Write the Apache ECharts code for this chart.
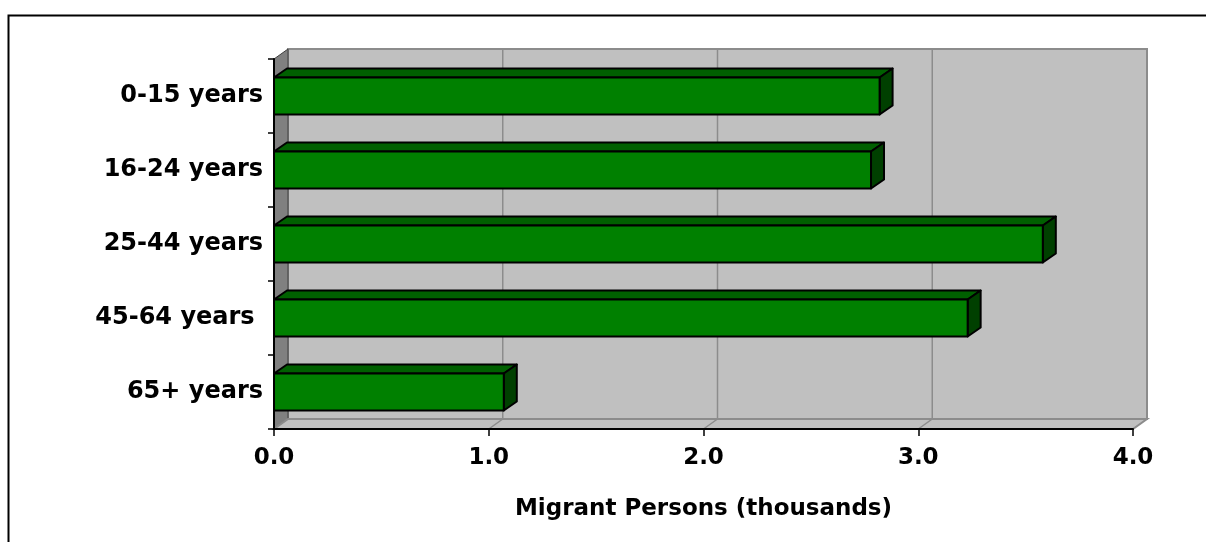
<!DOCTYPE html>
<html>
<head>
<meta charset="utf-8">
<title>Migrant persons by age</title>
<script src="https://cdn.jsdelivr.net/npm/echarts@6/dist/echarts.min.js"></script>
<style>
  html, body { margin: 0; padding: 0; background: #fff; }
  #chart { width: 1206px; height: 542px; }
</style>
</head>
<body>
<div id="chart"></div>
<script>
// data
const ageGroups = ['0-15 years', '16-24 years', '25-44 years', '45-64 years ', '65+ years']
const migrants = [2.82, 2.78, 3.58, 3.23, 1.07]
const xTicks = [0, 1, 2, 3, 4]

// fake 3d depth (px)
const WALL_DX = 14, WALL_DY = -10
const BAR_DX = 13, BAR_DY = -9
const font = { fontFamily: 'DejaVu Sans', fontWeight: 'bold', fontSize: 23, color: '#000' }

const chart = echarts.init(document.getElementById('chart'))

// walls, floor and gridlines, built from the grid's own coordinate system
const renderFrame = (params, api) => {
  const cs = params.coordSys
  const x0 = cs.x, y0 = cs.y, x1 = cs.x + cs.width, y1 = cs.y + cs.height
  const children = [
    {
      type: 'rect',
      shape: { x: x0 + WALL_DX, y: y0 + WALL_DY, width: cs.width, height: cs.height },
      style: { fill: '#c0c0c0', stroke: '#8c8c8c', lineWidth: 2 }
    },
    {
      type: 'polygon',
      shape: { points: [[x0, y0], [x0 + WALL_DX, y0 + WALL_DY], [x0 + WALL_DX, y1 + WALL_DY], [x0, y1]] },
      style: { fill: '#808080', stroke: '#404040', lineWidth: 1 }
    },
    {
      type: 'polygon',
      shape: { points: [[x0, y1], [x0 + WALL_DX, y1 + WALL_DY], [x1 + WALL_DX, y1 + WALL_DY], [x1, y1]] },
      style: { fill: '#c0c0c0', stroke: '#8c8c8c', lineWidth: 2 }
    }
  ]
  xTicks.slice(1, -1).forEach(t => {
    const x = api.coord([t, 0])[0]
    children.push({
      type: 'line',
      shape: { x1: x + WALL_DX, y1: y0 + WALL_DY, x2: x + WALL_DX, y2: y1 + WALL_DY },
      style: { stroke: '#8c8c8c', lineWidth: 1.5 }
    })
    children.push({
      type: 'line',
      shape: { x1: x, y1: y1, x2: x + WALL_DX, y2: y1 + WALL_DY },
      style: { stroke: '#8c8c8c', lineWidth: 1.5 }
    })
  })
  return { type: 'group', children }
}

const renderBar = (params, api) => {
  const idx = api.value(1)
  const start = api.coord([0, idx])
  const end = api.coord([api.value(0), idx])
  const h = api.size([0, 1])[1] * 0.5
  const xs = start[0], xe = end[0]
  const yt = start[1] - h / 2, yb = start[1] + h / 2
  const edge = { stroke: '#000', lineWidth: 2, lineJoin: 'round' }
  return {
    type: 'group',
    children: [
      {
        type: 'polygon',
        shape: { points: [[xs, yt], [xs + BAR_DX, yt + BAR_DY], [xe + BAR_DX, yt + BAR_DY], [xe, yt]] },
        style: Object.assign({ fill: '#006000' }, edge)
      },
      {
        type: 'polygon',
        shape: { points: [[xe, yt], [xe + BAR_DX, yt + BAR_DY], [xe + BAR_DX, yb + BAR_DY], [xe, yb]] },
        style: Object.assign({ fill: '#004000' }, edge)
      },
      {
        type: 'rect',
        shape: { x: xs, y: yt, width: xe - xs, height: h },
        style: Object.assign({ fill: '#008000' }, edge)
      }
    ]
  }
}

chart.setOption({
  animation: false,
  backgroundColor: '#fff',
  graphic: [
    {
      type: 'rect',
      left: 6,
      top: 13,
      shape: { width: 1300, height: 700 },
      style: { fill: 'none', stroke: '#000', lineWidth: 2 }
    }
  ],
  grid: {
    left: 274,
    right: 73,
    top: 59,
    bottom: 113,
    outerBoundsMode: 'none'
  },
  xAxis: {
    type: 'value',
    min: 0,
    max: 4,
    interval: 1,
    z: 10,
    name: 'Migrant Persons (thousands)',
    nameLocation: 'middle',
    nameGap: 69,
    nameTextStyle: font,
    axisLine: { show: true, lineStyle: { color: '#000', width: 2 } },
    axisTick: { show: true, length: 7, lineStyle: { color: '#000', width: 1.5 } },
    axisLabel: Object.assign({ margin: 18, formatter: v => v.toFixed(1) }, font),
    splitLine: { show: false }
  },
  yAxis: {
    type: 'category',
    data: ageGroups,
    inverse: true,
    z: 10,
    axisLine: { show: true, lineStyle: { color: '#000', width: 2 } },
    axisTick: { show: true, length: 6, lineStyle: { color: '#000', width: 1.5 } },
    axisLabel: Object.assign({ margin: 11 }, font, { fontSize: 24 }),
    splitLine: { show: false }
  },
  series: [
    {
      type: 'custom',
      name: 'frame',
      silent: true,
      z: 1,
      renderItem: renderFrame,
      data: [[0, 0]]
    },
    {
      type: 'custom',
      name: 'Migrant Persons',
      z: 5,
      renderItem: renderBar,
      encode: { x: 0, y: 1 },
      data: migrants.map((v, i) => [v, i])
    }
  ]
})
</script>
</body>
</html>
